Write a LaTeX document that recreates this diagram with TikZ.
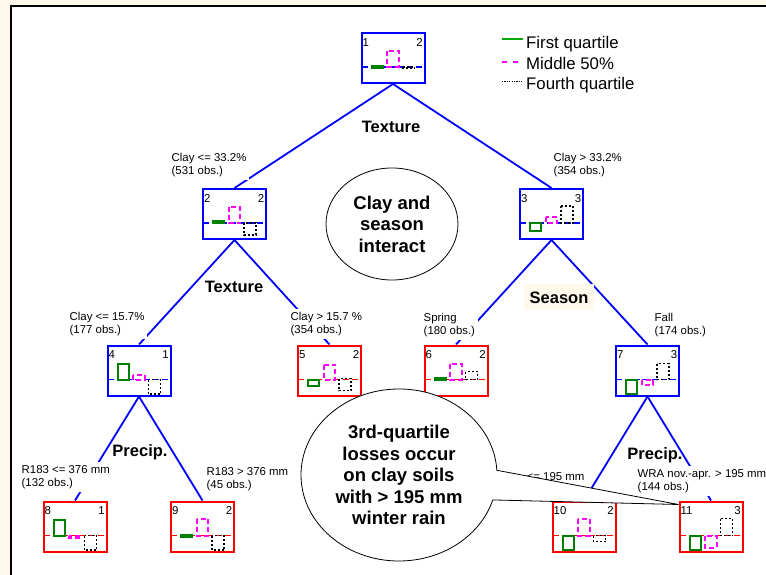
\documentclass[tikz,border=0pt]{standalone}
\usepackage{fontspec}
\setmainfont{Liberation Sans}
\usetikzlibrary{shapes.geometric,shapes.callouts}
\definecolor{treeblue}{RGB}{0,0,255}
\definecolor{treered}{RGB}{255,0,0}
\definecolor{qgreen}{RGB}{0,128,0}
\definecolor{keygreen}{RGB}{0,170,0}
\definecolor{qmagenta}{RGB}{255,0,255}
\definecolor{paper}{RGB}{255,249,236}
\newcommand{\lblfont}{\fontsize{11.4}{13.3}\selectfont}
\newcommand{\keyfont}{\fontsize{16.5}{19}\selectfont\bfseries}
\newcommand{\notefont}{\fontsize{18.5}{21.5}\selectfont\bfseries}
\newcommand{\legfont}{\fontsize{16.8}{20}\selectfont}
\newcommand{\qplots}[7]{%
  \begin{scope}[shift={(#1.center)}]
    \draw[firstq] (-21.5,#2) rectangle (-10.5,#3);
    \draw[midq] (-6,#4) rectangle (5.5,#5);
    \draw[fourthq] (9.5,#6) rectangle (21.5,#7);
  \end{scope}}
\tikzset{
  tnode/.style={draw=#1, line width=2pt, minimum width=63pt, minimum height=50pt, inner sep=0pt,
    path picture={\draw[#1, line width=1.4pt, dash pattern=on 6pt off 3pt]
      ([yshift=-9pt]path picture bounding box.west) -- ([yshift=-9pt]path picture bounding box.east);}},
  numl/.style={font=\lblfont, inner sep=0pt, anchor=north west, xshift=2pt, yshift=-6pt},
  numr/.style={font=\lblfont, inner sep=0pt, anchor=north east, xshift=-2.5pt, yshift=-6pt},
  split/.style={font=\lblfont, fill=white, inner sep=3pt, align=left, anchor=north west},
  keyword/.style={font=\keyfont, inner sep=1pt, anchor=base},
  branch/.style={draw=treeblue, line width=1.8pt},
  firstq/.style={draw=qgreen, line width=2pt},
  midq/.style={draw=qmagenta, line width=2pt, dash pattern=on 5pt off 3pt},
  fourthq/.style={draw=black, line width=1.8pt, dash pattern=on 2pt off 2pt},
  legtext/.style={font=\legfont, inner sep=1pt, anchor=base west},
  keyline/.style={line width=1.8pt},
  note/.style={draw, fill=white, line width=0.8pt, align=center, font=\notefont, inner sep=1pt}
}

\begin{document}
\begin{tikzpicture}[x=1pt, y=-1pt]
    \useasboundingbox (0,0) rectangle (766,575);
    \fill[paper] (0,0) rectangle (766,575);
    \fill[white] (11,6) rectangle (766,575);
    \draw[line width=2pt] (11,575) -- (11,6) -- (766,6);

    % legend
    \node[legtext] (keyfirst) at (525,48.3) {First quartile};
    \node[legtext] (keymid) at (525,69.3) {Middle 50\%};
    \node[legtext] (keyfourth) at (525,90) {Fourth quartile};
    \draw[keyline, draw=keygreen] ([shift={(-23,-9)}]keyfirst.base west) -- ([shift={(-2,-9)}]keyfirst.base west);
    \draw[keyline, draw=qmagenta, dash pattern=on 5pt off 6pt] ([shift={(-23,-7.5)}]keymid.base west) -- ([shift={(-2,-7.5)}]keymid.base west);
    \draw[keyline, draw=black, line width=1.2pt, dash pattern=on 1.2pt off 1.2pt] ([shift={(-23,-8.3)}]keyfourth.base west) -- ([shift={(-2,-8.3)}]keyfourth.base west);

    % tree
    \node[tnode=treeblue, label={[numl]north west:1}, label={[numr]north east:2}] (n1) at (393,58) {};
    \node[tnode=treeblue, label={[numl]north west:2}, label={[numr]north east:2}] (n2) at (234.5,214) {};
    \node[tnode=treeblue, label={[numl]north west:3}, label={[numr]north east:3}] (n3) at (551.5,214) {};
    \node[tnode=treeblue, label={[numl]north west:4}, label={[numr]north east:1}] (n4) at (139,370.5) {};
    \node[tnode=treered, label={[numl]north west:5}, label={[numr]north east:2}] (n5) at (329.5,370.5) {};
    \node[tnode=treered, label={[numl]north west:6}, label={[numr]north east:2}] (n6) at (456,370.5) {};
    \node[tnode=treeblue, label={[numl]north west:7}, label={[numr]north east:3}] (n7) at (647.5,370.5) {};
    \node[tnode=treered, label={[numl]north west:8}, label={[numr]north east:1}] (n8) at (75,526.5) {};
    \node[tnode=treered, label={[numl]north west:9}, label={[numr]north east:2}] (n9) at (202.5,526.5) {};
    \node[tnode=treered, label={[numl]north west:10}, label={[numr]north east:2}] (n10) at (584,526.5) {};
    \node[tnode=treered, label={[numl]north west:11}, label={[numr]north east:3}] (n11) at (711,526.5) {};

    \qplots{n1}{8}{10}{-7}{9}{9}{10}
    \qplots{n2}{6.5}{8.5}{-7}{9}{9}{21}
    \qplots{n3}{9}{17}{3}{9}{-8}{9}
    \qplots{n4}{-7}{9}{4}{9}{9}{23.5}
    \qplots{n5}{9}{15}{-6}{9}{8}{20}
    \qplots{n6}{7}{9}{-7}{9}{1}{9}
    \qplots{n7}{9}{23}{9}{14}{-7}{9}
    \qplots{n8}{-7}{9}{9}{11}{9}{23.5}
    \qplots{n9}{8}{10}{-8}{9}{9}{23.5}
    \qplots{n10}{9}{23.5}{-8}{9}{9}{15}
    \qplots{n11}{9}{23.5}{9}{21}{-8}{9}

    \draw[branch] (n1.south) -- (n2.north);
    \draw[branch] (n1.south) -- (n3.north);
    \draw[branch] (n2.south) -- (n4.north);
    \draw[branch] (n2.south) -- (n5.north);
    \draw[branch] (n3.south) -- (n6.north);
    \draw[branch] (n3.south) -- (n7.north);
    \draw[branch] (n4.south) -- (n8.north);
    \draw[branch] (n4.south) -- (n9.north);
    \draw[branch] (n7.south) -- (n10.north);
    \draw[branch] (n7.south) -- (n11.north);

    \node[split] (lb2) at (168.5,150) {Clay <= 33.2\%\\(531 obs.)};
    \node[split] (lb3) at (550.5,150) {Clay > 33.2\%\\(354 obs.)};
    \node[split] (lb4) at (66.5,309) {Clay <= 15.7\%\\(177 obs.)};
    \node[split] (lb5) at (287.5,309) {Clay > 15.7 \%\\(354 obs.)};
    \node[split] (lb6) at (420.5,310) {Spring\\(180 obs.)};
    \node[split] (lb7) at (651.5,310) {Fall\\(174 obs.)};
    \node[split] (lb8) at (18.5,462) {R183 <= 376 mm\\(132 obs.)};
    \node[split] (lb9) at (203.5,464) {R183 > 376 mm\\(45 obs.)};
    \node[split] (lb10) at (523.5,469) {<= 195 mm};
    \node[split] (lb11) at (634.5,466) {WRA nov.-apr. > 195 mm\\(144 obs.)};

    \node[keyword] (tex1) at (391,133) {Texture};
    \node[keyword] (tex2) at (234,292) {Texture};
    \node[keyword, fill=paper, inner xsep=6pt, inner ysep=7pt] (seas) at (559,303) {Season};
    \node[keyword] (prec1) at (140,456) {Precip.};
    \node[keyword] (prec2) at (655,459) {Precip.};

    % callouts
    \node[note, ellipse, minimum width=132pt, minimum height=112pt] (claynote) at (392,224) {Clay and\\season\\interact};
    \node[note, ellipse callout, minimum width=196pt, minimum height=172pt,
      callout absolute pointer={([yshift=-4pt]n11.north west)}, callout pointer arc=20] (rainnote)
      at (399,475) {3rd-quartile\\losses occur\\on clay soils\\with > 195 mm\\winter rain};
\end{tikzpicture}
\end{document}
